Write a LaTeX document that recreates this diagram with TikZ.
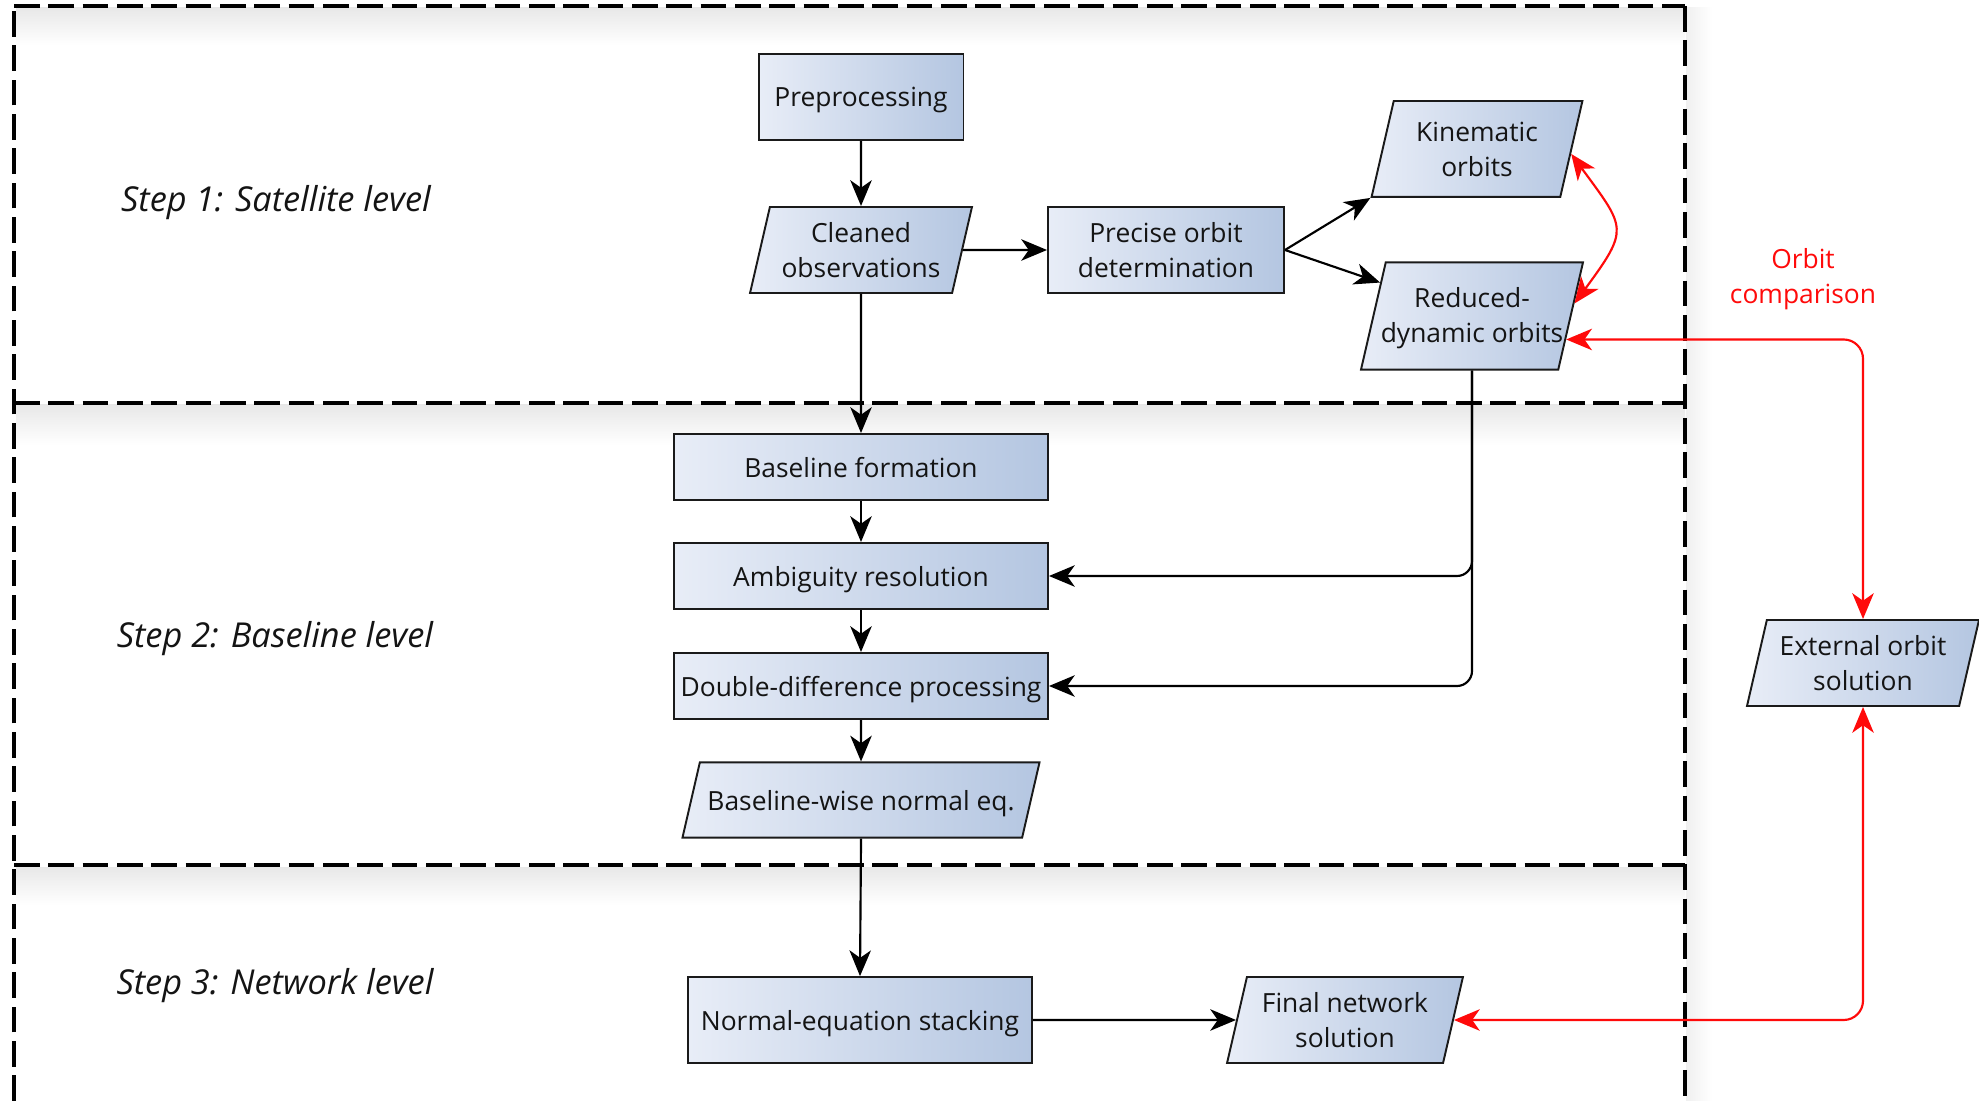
\documentclass[tikz,border=0pt]{standalone}
\usepackage{fontspec}
\setmainfont{Open Sans}
\usetikzlibrary{arrows.meta,shapes.geometric,calc}
\definecolor{boxL}{HTML}{E8EDF7}
\definecolor{boxR}{HTML}{B4C6E1}
\definecolor{edgec}{HTML}{1A1A1A}
\definecolor{txtc}{HTML}{141414}
\definecolor{redc}{HTML}{FF0A0A}
\begin{document}
\begin{tikzpicture}[x=0.466pt,y=-0.466pt,
  txt/.style={font=\fontsize{12.3}{16.3}\selectfont, align=center, text=txtc},
  steplbl/.style={font=\fontsize{16}{19}\selectfont\itshape, text=txtc},
  boxbase/.style={draw=edgec, line width=0.9pt, left color=boxL, right color=boxR},
  rectbox/.style={boxbase, rectangle, txt, inner sep=1pt},
  oneline/.style={text depth=0pt},
  para/.style={boxbase, trapezium, trapezium left angle=77, trapezium right angle=103,
    inner sep=0pt, text depth=0pt},
  flow/.style={-{Stealth[length=12pt,width=10pt,inset=3.5pt]}, line width=1pt, draw=black},
  redflow/.style={{Stealth[length=12pt,width=10pt,inset=3.5pt]}-{Stealth[length=12pt,width=10pt,inset=3.5pt]}, line width=1pt, draw=redc},
  hsep/.style={line width=1.9pt, dash pattern=on 12pt off 4pt},
  vsep/.style={line width=1.5pt, dash pattern=on 12pt off 4pt},
]
\useasboundingbox (0,0) rectangle (1979,1101);
\fill[white] (0,0) rectangle (1979,1101);
% faint shadows below level frames
\shade[top color=black!9, bottom color=white] (16,8) rectangle (1685,45);
\shade[top color=black!9, bottom color=white] (16,405) rectangle (1685,445);
\shade[top color=black!9, bottom color=white] (16,867) rectangle (1685,905);
\shade[left color=black!6, right color=white] (1686,8) rectangle (1712,1101);
% level frames
\draw[vsep] (14,1101) -- (14,6);
\draw[vsep] (1685,6) -- (1685,1101);
\draw[hsep] (14,6) -- (1685,6);
\draw[hsep] (14,403) -- (1685,403);
\draw[hsep] (14,865) -- (1685,865);

% step labels
\node[steplbl] (s1) at (276,203) {Step 1: Satellite level};
\node[steplbl] (s2) at (275,639) {Step 2: Baseline level};
\node[steplbl] (s3) at (275,986) {Step 3: Network level};

% nodes
\node[rectbox, oneline, minimum width=95.5pt, minimum height=40pt] (pre) at (861,97) {Preprocessing};
\node[para, text width=84.9pt, text height=40.1pt, label={[txt]center:{Cleaned\\observations}}] (clean) at (861,250) {};
\node[rectbox, minimum width=110pt, minimum height=40pt] (pod) at (1166,250) {Precise orbit\\determination};
\node[para, text width=77.6pt, text height=44.7pt, label={[txt]center:{Kinematic\\orbits}}] (kin) at (1477,149) {};
\node[para, text width=80.4pt, text height=49.9pt, label={[txt, yshift=-1.2pt]center:{Reduced-\\dynamic orbits}}] (red) at (1472,316) {};
\node[rectbox, oneline, minimum width=174.3pt, minimum height=30.8pt] (bf) at (861,467) {Baseline formation};
\node[rectbox, oneline, minimum width=174.3pt, minimum height=30.8pt] (ar) at (861,576) {Ambiguity resolution};
\node[rectbox, oneline, minimum width=174.3pt, minimum height=30.8pt] (dd) at (861,686) {Double-difference processing};
\node[para, text width=150.2pt, text height=35pt, label={[txt, yshift=-1.5pt]center:{Baseline-wise normal eq.}}] (bw) at (861,800) {};
\node[rectbox, oneline, minimum width=160.3pt, minimum height=40pt] (nes) at (860,1020) {Normal-equation stacking};
\node[para, text width=91.4pt, text height=40.1pt, label={[txt]center:{Final network\\solution}}] (fns) at (1345,1020) {};
\node[para, text width=89.6pt, text height=40.1pt, label={[txt]center:{External orbit\\solution}}] (ext) at (1863,663) {};
\node[txt, text=redc] (ocmp) at (1803,279) {Orbit\\comparison};

% black connectors
\draw[flow] (pre) -- (clean);
\draw[flow] (clean.east) -- (pod.west);
\draw[flow] (pod.east) -- (kin.bottom left corner);
\draw[flow] (pod.east) -- (red.160);
\draw[flow] (clean.south) -- (bf.north);
\draw[flow] (bf) -- (ar);
\draw[flow] (ar) -- (dd);
\draw[flow] (dd) -- (bw);
\draw[flow] (bw.south) -- (nes.north);
\draw[flow] (nes.east) -- (fns.west);
\draw[flow, rounded corners=7pt] (red.south -| red.center) |- (ar.east);
\draw[flow, rounded corners=7pt] (red.south -| red.center) |- (dd.east);

% red connectors
\draw[redflow] (kin.-3) .. controls +(55,75) and +(55,-75) .. (red.7);
\draw[redflow, rounded corners=9pt] (red.-14) -| (ext.north);
\draw[redflow, rounded corners=9pt] (fns.east) -| (ext.south);
\end{tikzpicture}
\end{document}
